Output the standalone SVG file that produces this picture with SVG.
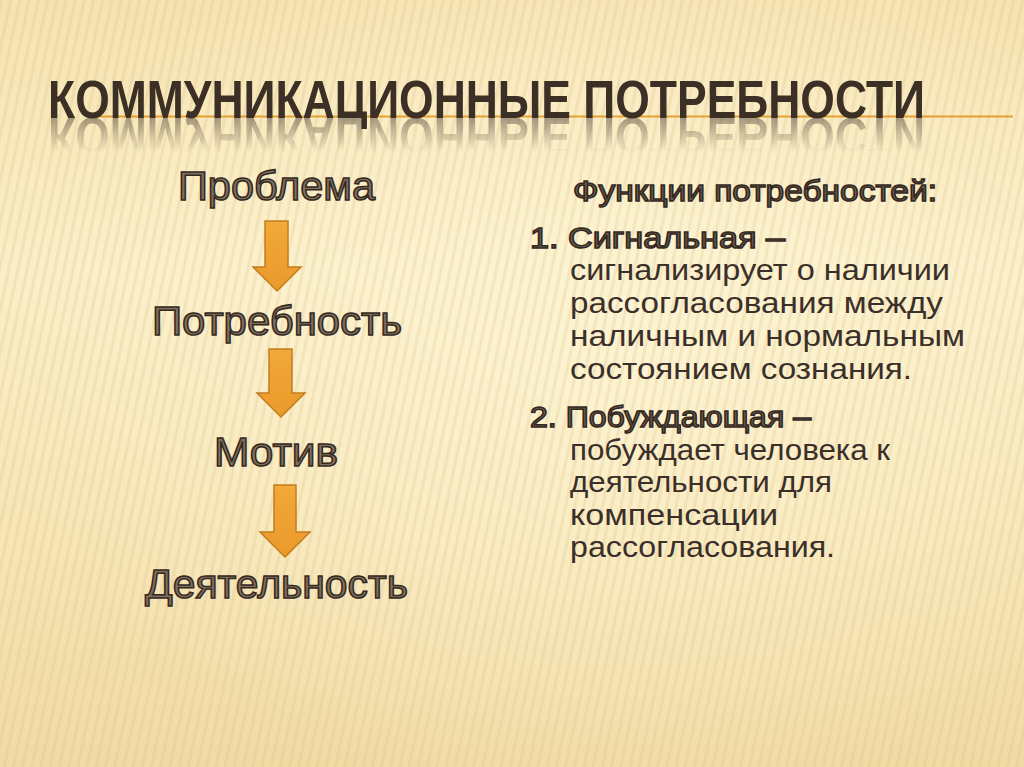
<svg xmlns="http://www.w3.org/2000/svg" width="1024" height="767" viewBox="0 0 1024 767">
<defs>
<linearGradient id="bg" x1="0" y1="0" x2="0" y2="1">
<stop offset="0" stop-color="#f6e2b0"/>
<stop offset="0.35" stop-color="#fbefc8"/>
<stop offset="0.7" stop-color="#f7e5b5"/>
<stop offset="1" stop-color="#f1daa4"/>
</linearGradient>
<radialGradient id="glow" cx="0.6" cy="0.45" r="0.6">
<stop offset="0" stop-color="#fff6d8" stop-opacity="0.7"/>
<stop offset="1" stop-color="#fff6d8" stop-opacity="0"/>
</radialGradient>
<pattern id="stripes" width="9" height="40" patternUnits="userSpaceOnUse" patternTransform="rotate(12)">
<rect x="0" y="0" width="3" height="40" fill="#d9bf86" opacity="0.25"/>
</pattern>
<linearGradient id="refl" x1="0" y1="0" x2="0" y2="1">
<stop offset="0" stop-color="#fff" stop-opacity="0.55"/>
<stop offset="1" stop-color="#fff" stop-opacity="0"/>
</linearGradient>
<mask id="reflMask" maskUnits="userSpaceOnUse" x="0" y="118" width="1024" height="40">
<rect x="0" y="118" width="1024" height="34" fill="url(#refl)"/>
</mask>
<linearGradient id="arrowFill" x1="0" y1="0" x2="0" y2="1">
<stop offset="0" stop-color="#f2a83a"/>
<stop offset="1" stop-color="#eb9a2a"/>
</linearGradient>
</defs>
<style>
.title{font-family:"Liberation Sans",Arial,sans-serif;font-weight:bold;font-size:53px;fill:#3b2f26}
.big{font-family:"Liberation Sans",Arial,sans-serif;font-size:40px;fill:#7f705e;stroke:#35291f;stroke-width:1.5}
.head{font-family:"Liberation Sans",Arial,sans-serif;font-size:29px;fill:#6f6252;stroke:#33281f;stroke-width:1.5}
.body{font-family:"Liberation Sans",Arial,sans-serif;font-size:30px;fill:#3a3029}
.arrow{fill:url(#arrowFill);stroke:#c27d1f;stroke-width:1.5;stroke-linejoin:miter}
</style>

<rect width="1024" height="767" fill="url(#bg)"/>
<rect width="1024" height="767" fill="url(#glow)"/>
<rect width="1024" height="767" fill="url(#stripes)"/>

<g id="title">
<line x1="97" y1="116.5" x2="1013" y2="116.5" stroke="#e5a032" stroke-width="2"/>
<text id="titleText" class="title" x="48" y="118" textLength="877" lengthAdjust="spacingAndGlyphs">КОММУНИКАЦИОННЫЕ ПОТРЕБНОСТИ</text>
<g mask="url(#reflMask)" opacity="0.8">
<use href="#titleText" transform="translate(0,236) scale(1,-1)"/>
</g>
</g>

<g id="connectors">
<path class="arrow" d="M265,221 H288 V267 H301 L277,291 L253,267 H265 Z"/>
<path class="arrow" d="M269,349 H292 V393 H305 L281,417 L257,393 H269 Z"/>
<path class="arrow" d="M274,485 H296 V532 H310 L285,557 L260,532 H274 Z"/>
</g>

<g id="node-problema"><text class="big" x="178" y="200" textLength="197" lengthAdjust="spacingAndGlyphs">Проблема</text></g>
<g id="node-potrebnost"><text class="big" x="152" y="335" textLength="250" lengthAdjust="spacingAndGlyphs">Потребность</text></g>
<g id="node-motiv"><text class="big" x="214" y="466" textLength="124" lengthAdjust="spacingAndGlyphs">Мотив</text></g>
<g id="node-deyatelnost"><text class="big" x="145" y="598" textLength="263" lengthAdjust="spacingAndGlyphs">Деятельность</text></g>

<g id="functions">
<text class="head" x="573" y="201" textLength="364" lengthAdjust="spacingAndGlyphs">Функции потребностей:</text>
<text class="head" x="530" y="248" textLength="255" lengthAdjust="spacingAndGlyphs">1. Сигнальная –</text>
<text class="body" x="570" y="280" textLength="380" lengthAdjust="spacingAndGlyphs">сигнализирует о наличии</text>
<text class="body" x="570" y="313" textLength="373" lengthAdjust="spacingAndGlyphs">рассогласования между</text>
<text class="body" x="570" y="346" textLength="395" lengthAdjust="spacingAndGlyphs">наличным и нормальным</text>
<text class="body" x="570" y="379" textLength="342" lengthAdjust="spacingAndGlyphs">состоянием сознания.</text>
<text class="head" x="530" y="427" textLength="281" lengthAdjust="spacingAndGlyphs">2. Побуждающая –</text>
<text class="body" x="570" y="460" textLength="320" lengthAdjust="spacingAndGlyphs">побуждает человека к</text>
<text class="body" x="570" y="492" textLength="262" lengthAdjust="spacingAndGlyphs">деятельности для</text>
<text class="body" x="570" y="525" textLength="208" lengthAdjust="spacingAndGlyphs">компенсации</text>
<text class="body" x="570" y="557" textLength="265" lengthAdjust="spacingAndGlyphs">рассогласования.</text>
</g>
</svg>
